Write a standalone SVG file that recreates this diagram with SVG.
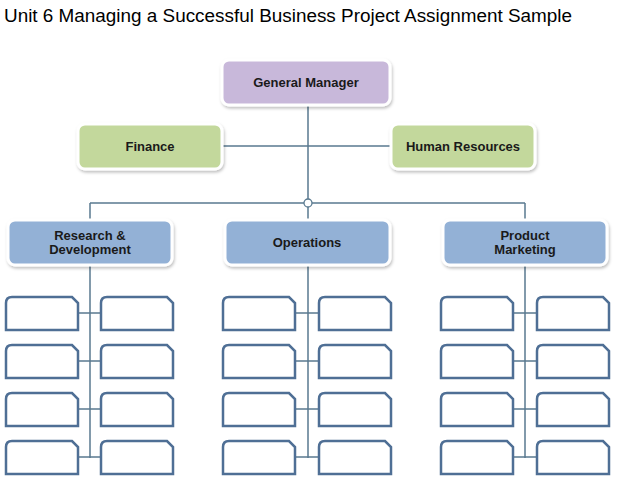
<svg xmlns="http://www.w3.org/2000/svg" width="618" height="489" viewBox="0 0 618 489">
<defs>
<filter id="sh" x="-10%" y="-10%" width="130%" height="140%"><feDropShadow dx="1" dy="2" stdDeviation="1.5" flood-color="#000" flood-opacity="0.25"/></filter>
<path id="sb" d="M0,6 Q0,0 6,0 H66 L72,6 V33 H0 Z"/>
</defs>
<style>
.t{font-family:"Liberation Sans",Arial,sans-serif;font-weight:bold;font-size:13px;fill:#1a1a1a;text-anchor:middle}
.box{stroke:#fff;stroke-width:3;filter:url(#sh)}
.ln{stroke:#5a7a90;stroke-width:1.5;fill:none}
.sb{fill:#fff;stroke:#4f6f95;stroke-width:2.5}
</style>
<rect width="618" height="489" fill="#fff"/>
<text x="4" y="22" font-family="Liberation Sans,Arial,sans-serif" font-size="18.9" fill="#000">Unit 6 Managing a Successful Business Project Assignment Sample</text>
<g id="connectors">
<path class="ln" d="M308,105 V220 M222,146 H391 M90,203 H525 M90,203 V220 M525,203 V220"/>
<circle cx="308" cy="203" r="4" fill="#fff" stroke="#5a7a90" stroke-width="1.3"/>
<path class="ln" stroke-width="2.5" d="M90,265 V458 M308,265 V458 M525,265 V458"/>
<path class="ln" d="M78,313 H101 M78,361 H101 M78,409 H101 M78,457 H101 M295,313 H319 M295,361 H319 M295,409 H319 M295,457 H319 M513,313 H537 M513,361 H537 M513,409 H537 M513,457 H537"/>
</g>
<g id="gm"><rect class="box" x="222" y="60" width="168" height="45" rx="7" fill="#c8b8da"/><text class="t" x="306" y="87">General Manager</text></g>
<g id="finance"><rect class="box" x="78" y="124" width="144" height="45" rx="7" fill="#c3d89c"/><text class="t" x="150" y="151">Finance</text></g>
<g id="hr"><rect class="box" x="391" y="124" width="144" height="45" rx="7" fill="#c3d89c"/><text class="t" x="463" y="151">Human Resources</text></g>
<g id="rd"><rect class="box" x="8" y="220" width="164" height="45" rx="7" fill="#93b1d6"/><text class="t" x="90" y="240">Research &amp;</text><text class="t" x="90" y="254">Development</text></g>
<g id="ops"><rect class="box" x="225" y="220" width="165" height="45" rx="7" fill="#93b1d6"/><text class="t" x="307" y="247">Operations</text></g>
<g id="pm"><rect class="box" x="443" y="220" width="164" height="45" rx="7" fill="#93b1d6"/><text class="t" x="525" y="240">Product</text><text class="t" x="525" y="254">Marketing</text></g>
<g id="subs">
<use href="#sb" class="sb" x="6" y="297"/><use href="#sb" class="sb" x="101" y="297"/>
<use href="#sb" class="sb" x="6" y="345"/><use href="#sb" class="sb" x="101" y="345"/>
<use href="#sb" class="sb" x="6" y="393"/><use href="#sb" class="sb" x="101" y="393"/>
<use href="#sb" class="sb" x="6" y="441"/><use href="#sb" class="sb" x="101" y="441"/>
<use href="#sb" class="sb" x="223" y="297"/><use href="#sb" class="sb" x="319" y="297"/>
<use href="#sb" class="sb" x="223" y="345"/><use href="#sb" class="sb" x="319" y="345"/>
<use href="#sb" class="sb" x="223" y="393"/><use href="#sb" class="sb" x="319" y="393"/>
<use href="#sb" class="sb" x="223" y="441"/><use href="#sb" class="sb" x="319" y="441"/>
<use href="#sb" class="sb" x="441" y="297"/><use href="#sb" class="sb" x="537" y="297"/>
<use href="#sb" class="sb" x="441" y="345"/><use href="#sb" class="sb" x="537" y="345"/>
<use href="#sb" class="sb" x="441" y="393"/><use href="#sb" class="sb" x="537" y="393"/>
<use href="#sb" class="sb" x="441" y="441"/><use href="#sb" class="sb" x="537" y="441"/>
</g>
</svg>
